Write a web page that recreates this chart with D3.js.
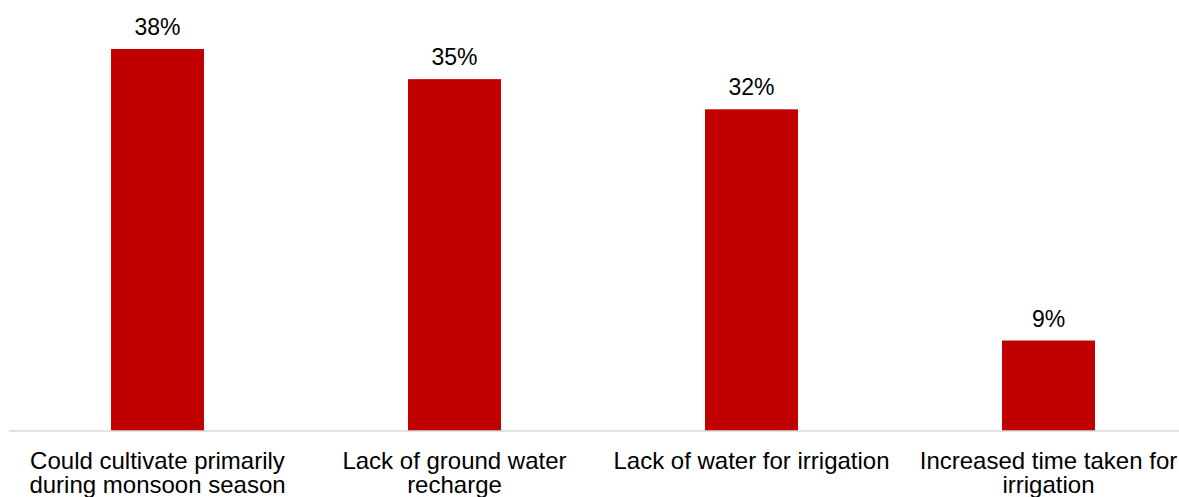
<!DOCTYPE html>
<html>
<head>
<meta charset="utf-8">
<script src="https://cdn.jsdelivr.net/npm/d3@7"></script>
<style>
  html, body { margin: 0; padding: 0; background: #fff; }
  svg { display: block; font-family: "Liberation Sans", Arial, sans-serif; }
</style>
</head>
<body>
<svg id="chart" width="1179" height="497"></svg>
<script>
// Reported impacts (share of respondents)
const categories = [
  "Could cultivate primarily during monsoon season",
  "Lack of ground water recharge",
  "Lack of water for irrigation",
  "Increased time taken for irrigation"
];
const categoryLines = [
  ["Could cultivate primarily", "during monsoon season"],
  ["Lack of ground water", "recharge"],
  ["Lack of water for irrigation"],
  ["Increased time taken for", "irrigation"]
];
const values = [38, 35, 32, 9];
const valueLabels = ["38%", "35%", "32%", "9%"];

const svg = d3.select("#chart");
const baseline = 431;

const x = d3.scaleBand()
  .domain(categories)
  .range([9, 1197])
  .paddingInner(0.687)
  .paddingOuter(0.3435);

const y = d3.scaleLinear()
  .domain([0, 38])
  .range([baseline, 49]);

// bars
svg.append("g").selectAll("rect")
  .data(values)
  .join("rect")
  .attr("x", (d, i) => x(categories[i]))
  .attr("y", d => y(d))
  .attr("width", x.bandwidth())
  .attr("height", d => baseline - y(d))
  .attr("fill", "#C00000");

// value labels
svg.append("g").selectAll("text")
  .data(values)
  .join("text")
  .attr("x", (d, i) => x(categories[i]) + x.bandwidth() / 2)
  .attr("y", d => y(d) - 14)
  .attr("text-anchor", "middle")
  .attr("font-size", 23)
  .attr("fill", "#000")
  .text((d, i) => valueLabels[i]);

// category axis
const axis = svg.append("g").attr("transform", `translate(0,${baseline})`);
axis.append("line")
  .attr("x1", 9).attr("x2", 1197)
  .attr("stroke", "#d9d9d9").attr("stroke-width", 1.5);

const labels = axis.selectAll("text.cat")
  .data(categories)
  .join("text")
  .attr("class", "cat")
  .attr("x", d => x(d) + x.bandwidth() / 2)
  .attr("y", 38)
  .attr("text-anchor", "middle")
  .attr("font-size", 24)
  .attr("fill", "#000");
labels.each(function(d, i) {
  const t = d3.select(this);
  categoryLines[i].forEach((line, j) => {
    t.append("tspan")
      .attr("x", x(d) + x.bandwidth() / 2)
      .attr("dy", j === 0 ? 0 : 24)
      .text(line);
  });
});
</script>
</body>
</html>
